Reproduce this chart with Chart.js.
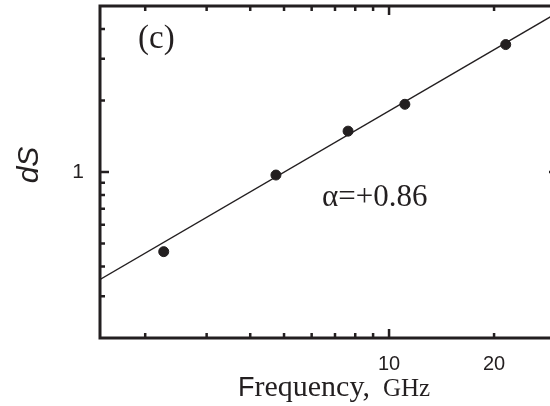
<!DOCTYPE html>
<html>
<head>
<meta charset="utf-8">
<script src="https://cdn.jsdelivr.net/npm/chart.js@4.4.0/dist/chart.umd.min.js"></script>
<style>
  html, body { margin: 0; padding: 0; background: #fff; overflow: hidden; }
  #wrap { width: 564px; height: 406px; }
</style>
</head>
<body>
<div id="wrap"><canvas id="c" width="564" height="406"></canvas></div>
<script>
// ---- data ----
const freqGHz   = [2.26, 4.74, 7.63, 11.1, 21.6];
const dSValues  = [0.462, 0.971, 1.486, 1.928, 3.44];
const fitFreq   = [1.47, 30.5];
const fitdS     = [0.35, 4.70];
const xTickValues = [2, 3, 4, 5, 6, 7, 8, 9, 10, 20];
const xLabelled   = [10, 20];
const xMajor      = [10];
const yTickValues = [0.3, 0.4, 0.5, 0.6, 0.7, 0.8, 0.9, 1, 2, 3, 4];
const yLabelled   = [1];
const yMajor      = [1];
const panelLabel  = '(c)';
const alphaLabel  = 'α=+0.86';

const INK = '#231f20';

const framePlugin = {
  id: 'frame',
  afterDraw(chart) {
    const ctx = chart.ctx;
    const a = chart.chartArea;
    const xs = chart.scales.x, ys = chart.scales.y;
    ctx.save();
    ctx.strokeStyle = INK;
    ctx.lineWidth = 3;
    ctx.strokeRect(a.left, a.top, a.right - a.left, a.bottom - a.top);
    // inward ticks on all four sides
    ctx.lineWidth = 2.5;
    xTickValues.forEach(v => {
      const px = xs.getPixelForValue(v);
      const len = xMajor.includes(v) ? 9 : 5;
      ctx.beginPath();
      ctx.moveTo(px, a.bottom); ctx.lineTo(px, a.bottom - len);
      ctx.moveTo(px, a.top); ctx.lineTo(px, a.top + len);
      ctx.stroke();
    });
    yTickValues.forEach(v => {
      const py = ys.getPixelForValue(v);
      const len = yMajor.includes(v) ? 9 : 5;
      ctx.beginPath();
      ctx.moveTo(a.left, py); ctx.lineTo(a.left + len, py);
      ctx.moveTo(a.right, py); ctx.lineTo(a.right - len, py);
      ctx.stroke();
    });
    // texts
    ctx.fillStyle = INK;
    ctx.textBaseline = 'alphabetic';
    ctx.textAlign = 'left';
    ctx.font = '33px "Liberation Serif", serif';
    ctx.fillText(panelLabel, 138, 48);
    ctx.font = '31px "Liberation Serif", serif';
    ctx.fillText(alphaLabel, 322, 206);
    // y title
    ctx.save();
    ctx.translate(38, 165);
    ctx.rotate(-Math.PI / 2);
    ctx.textAlign = 'center';
    ctx.font = 'italic 30px "Liberation Sans", sans-serif';
    ctx.fillText('dS', 0, 0);
    ctx.restore();
    // x title (mixed fonts)
    let x = 238; const base = 396;
    ctx.textAlign = 'left';
    ctx.font = '27px "Liberation Sans", sans-serif';
    ctx.fillText('F', x, base); x += ctx.measureText('F').width;
    ctx.font = '30px "Liberation Serif", serif';
    ctx.fillText('requency,', x, base); x += ctx.measureText('requency,').width + 13;
    ctx.font = '25px "Liberation Serif", serif';
    ctx.fillText('GHz', x, base);
    ctx.restore();
  }
};

function zeroPad(s) {
  s.paddingTop = 0; s.paddingBottom = 0; s.paddingLeft = 0; s.paddingRight = 0;
}

new Chart(document.getElementById('c'), {
  type: 'scatter',
  data: {
    datasets: [
      {
        label: 'fit',
        data: fitFreq.map((f, i) => ({ x: f, y: fitdS[i] })),
        showLine: true,
        borderColor: INK,
        borderWidth: 1.3,
        pointRadius: 0,
        fill: false
      },
      {
        label: 'dS',
        data: freqGHz.map((f, i) => ({ x: f, y: dSValues[i] })),
        backgroundColor: INK,
        borderColor: INK,
        pointRadius: 5,
        pointHoverRadius: 5,
        showLine: false
      }
    ]
  },
  options: {
    responsive: false,
    animation: false,
    layout: { padding: { top: 4, right: 1, left: 0, bottom: 0 } },
    plugins: { legend: { display: false }, tooltip: { enabled: false } },
    scales: {
      x: {
        type: 'logarithmic',
        min: 1.484, max: 30.5,
        afterFit: s => { s.height = 68; zeroPad(s); },
        afterBuildTicks: s => { s.ticks = xTickValues.map(v => ({ value: v })); },
        grid: { display: false, drawTicks: false },
        border: { display: false },
        ticks: {
          autoSkip: false, maxRotation: 0, padding: 14,
          color: INK,
          font: { family: '"Liberation Sans", sans-serif', size: 20 },
          callback: v => xLabelled.includes(v) ? String(v) : ''
        }
      },
      y: {
        type: 'logarithmic',
        min: 0.2, max: 5,
        afterFit: s => { s.width = 100; zeroPad(s); },
        afterBuildTicks: s => { s.ticks = yTickValues.map(v => ({ value: v })); },
        grid: { display: false, drawTicks: false },
        border: { display: false },
        ticks: {
          autoSkip: false, padding: 16,
          color: INK,
          font: { family: '"Liberation Sans", sans-serif', size: 21 },
          callback: v => yLabelled.includes(v) ? String(v) : ''
        }
      }
    }
  },
  plugins: [framePlugin]
});
</script>
</body>
</html>
